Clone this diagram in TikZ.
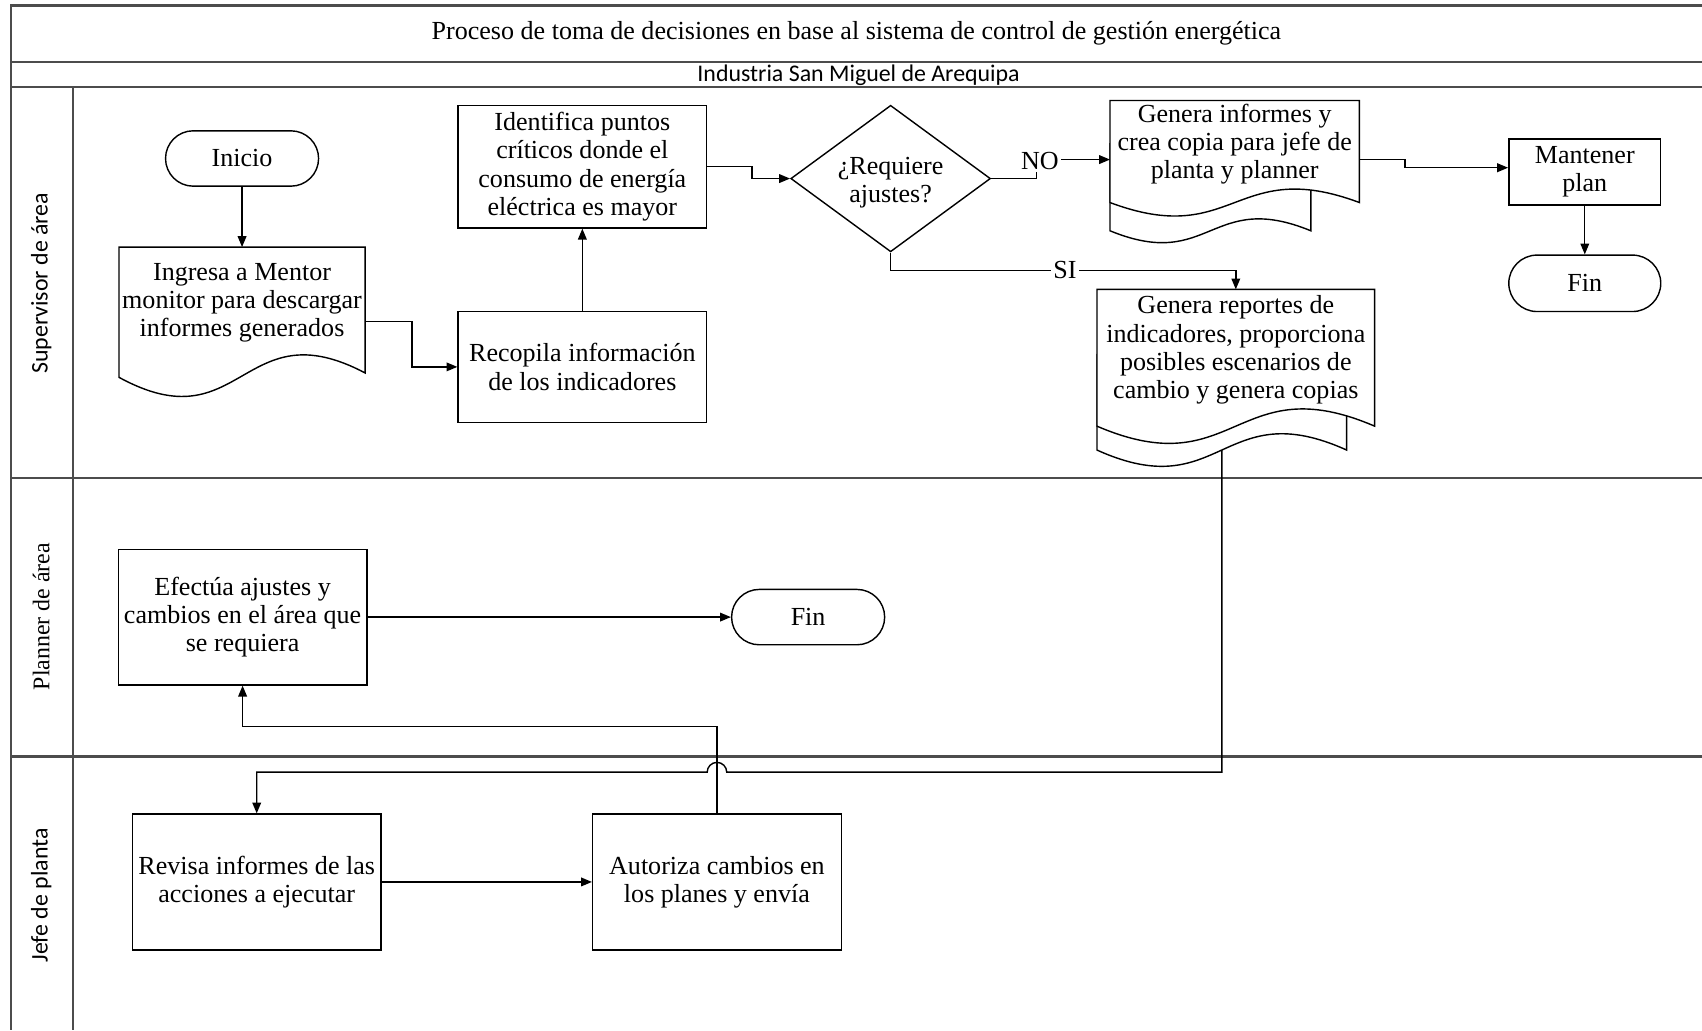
\documentclass[tikz,border=0pt]{standalone}
\usepackage{fontspec}
\setmainfont{Liberation Serif}
\newfontfamily\lanesans{Carlito}
\usetikzlibrary{shapes.geometric,arrows.meta,calc,backgrounds}

\begin{document}
\begin{tikzpicture}[x=0.5pt,y=-0.5pt,
  every node/.style={font=\fontsize{12}{13}\selectfont, align=center, inner sep=0pt},
  box/.style={draw, line width=0.65pt, minimum width=114.5pt},
  term/.style={draw, line width=0.65pt, rounded corners=12.75pt, minimum width=70.5pt, minimum height=25.5pt},
  docline/.style={draw, line width=0.65pt},
  arr/.style={line width=0.65pt, -{Triangle[length=5pt,width=4pt]}},
  lane/.style={line width=1pt, draw=black!70},
  lbl/.style={fill=white, inner sep=1pt},
  sanslbl/.style={font=\lanesans\fontsize{11}{13}\selectfont}]

\useasboundingbox (0,0) rectangle (1568,949);

% swimlane frame
\draw[lane] (1568,5) -- (10,5) -- (10,949);
\draw[lane] (10,57) -- (1568,57);
\draw[lane] (10,80) -- (1568,80);
\draw[lane] (10,440) -- (1568,440);
\draw[lane] (10,697) -- (1568,697);
\draw[lane] (67,80) -- (67,949);

% headings
\node (titulo) at (789,31) {Proceso de toma de decisiones en base al sistema de control de gesti\'on energ\'etica};
\node[sanslbl] (empresa) at (791,69) {Industria San Miguel de Arequipa};
\node[sanslbl, rotate=90] (lsup) at (38,261) {Supervisor de \'area};
\node[rotate=90, font=\fontsize{11}{13}\selectfont] (lpla) at (38,568) {Planner de \'area};
\node[sanslbl, rotate=90] (ljef) at (38,825) {Jefe de planta};

% lane 1: supervisor
\node[term] (ini) at (223,146) {Inicio};
\node[minimum width=113pt, minimum height=50pt] (ing) at (223,279) {Ingresa a Mentor\\monitor para descargar\\informes generados};
\node[box, minimum height=56.5pt] (ide) at (536.5,153.5) {Identifica puntos\\cr\'iticos donde el\\consumo de energ\'ia\\el\'ectrica es mayor};
\node[box, minimum height=51pt] (rec) at (536.5,338) {Recopila informaci\'on\\de los indicadores};
\node[diamond, draw, line width=0.65pt, minimum width=92pt, minimum height=67.5pt] (dec) at (820.5,164.5) {};
\node (dectxt) at (820.5,168) {¿Requiere\\ajustes?};
\node[minimum width=114.5pt, minimum height=40pt] (nod) at (1137.5,133) {Genera informes y\\crea copia para jefe de\\planta y planner};
\node[minimum width=127.5pt, minimum height=55.5pt] (sid) at (1138.5,322.5) {Genera reportes de\\indicadores, proporciona\\posibles escenarios de\\cambio y genera copias};
\node[draw, line width=0.65pt, minimum width=70pt, minimum height=30.5pt] (man) at (1460,158.5) {Mantener\\plan};
\node[term, minimum width=70pt, minimum height=26pt, rounded corners=13pt] (fin1) at (1460,261) {Fin};

% lane 2: planner
\node[box, minimum height=62.5pt] (efe) at (223.5,568.5) {Efect\'ua ajustes y\\cambios en el \'area que\\se requiera};
\node[term] (fin2) at (744.5,568.5) {Fin};

% lane 3: jefe de planta
\node[box, minimum height=62.5pt] (rev) at (236.5,812.5) {Revisa informes de las\\acciones a ejecutar};
\node[box, minimum height=62.5pt] (aut) at (660.5,812.5) {Autoriza cambios en\\los planes y env\'ia};

% document outlines
\begin{scope}[on background layer]
  % single document
  \draw[docline] ($(ing.north west)+(0,-1)$) -- ($(ing.north east)+(0,-1)$) -- ($(ing.north east)+(0,115)$)
    .. controls ($(ing.north)+(0,55)$) and ($(ing.north)+(0,181)$) .. ($(ing.north west)+(0,119)$) -- cycle;
  % multiple documents (NO branch)
  \draw[docline, fill=white] ($(nod.north west)+(0,40)$) -- ($(nod.north west)+(185,40)$) -- ($(nod.north west)+(185,120)$)
    .. controls ($(nod.north west)+(92.5,82)$) and ($(nod.north west)+(92.5,158)$) .. ($(nod.north west)+(0,120)$) -- cycle;
  \draw[docline, fill=white] (nod.north west) -- (nod.north east) -- ($(nod.north east)+(0,94)$)
    .. controls ($(nod.north)+(0,51)$) and ($(nod.north)+(0,137)$) .. ($(nod.north west)+(0,94)$) -- cycle;
  % multiple documents (SI branch)
  \draw[docline, fill=white] ($(sid.north west)+(0,60)$) -- ($(sid.north west)+(230,60)$) -- ($(sid.north west)+(230,148)$)
    .. controls ($(sid.north west)+(115,96)$) and ($(sid.north west)+(115,200)$) .. ($(sid.north west)+(0,148)$) -- cycle;
  \draw[docline, fill=white] (sid.north west) -- (sid.north east) -- ($(sid.north east)+(0,126)$)
    .. controls ($(sid.north)+(0,71)$) and ($(sid.north)+(0,181)$) .. ($(sid.north west)+(0,126)$) -- cycle;
\end{scope}
\coordinate (sidbot) at ($(sid.north west)+(115,148)$);

% connectors
\draw[arr] (ini.south) -- ($(ing.north)+(0,-1)$);
\draw[arr] ([yshift=-8.5pt]ing.east) -- ++(43,0) |- (rec.west);
\draw[arr] (rec.north) -- (ide.south);
\draw[arr] (ide.east) -- ++(41,0) |- (dec.west);
\draw[arr] (dec.east) -- ++(42,0) |- ([yshift=-7pt]nod.west);
\node[lbl] (nolab) at (958,148) {NO};
\draw[arr] ([yshift=-7pt]nod.east) -- ++(42,0) |- ([yshift=2pt]man.west);
\draw[arr] (man.south) -- (fin1.north);
\draw[arr] (dec.south) -- ++(0,16.5) -| (sid.north);
\node[lbl] (silab) at (981,248.5) {SI};
\coordinate (bus) at ($(rev.north)+(0,-38)$);
\draw[arr] (sidbot) -- (sidbot |- bus) -- ($(aut.north |- bus)+(9,0)$)
  arc[start angle=0, end angle=180, radius=4.5pt] -- (bus) -- (rev.north);
\draw[arr] (rev.east) -- (aut.west);
\draw[arr] (aut.north) -- ++(0,-80) -| (efe.south);
\draw[arr] (efe.east) -- (fin2.west);
\end{tikzpicture}
\end{document}
